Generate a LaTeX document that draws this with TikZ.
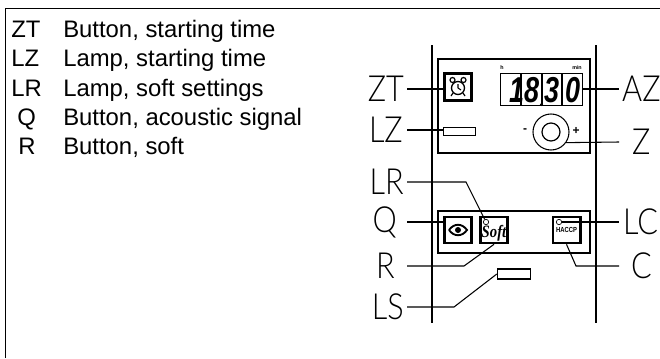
\documentclass[tikz,border=0pt]{standalone}
\usepackage{fontspec}
\setmainfont{Liberation Sans}
\newfontfamily\partfont{Lato Light}
\newfontfamily\softfont{Liberation Serif}
\usetikzlibrary{calc}
\tikzset{
	partlabel/.style={inner sep=0pt, font=\partfont\fontsize{27}{27}\selectfont, xscale=0.85, transform shape},
	keytext/.style={anchor=base west, inner sep=0pt, font=\fontsize{17.9}{20}\selectfont},
	panel/.style={line width=0.8pt},
	keybtn/.style={draw, line width=2pt, minimum width=20.5pt, minimum height=19.5pt, inner sep=0pt},
	lampbox/.style={draw, line width=0.8pt, inner sep=0pt},
	lead/.style={line width=0.8pt},
}
\begin{document}
\begin{tikzpicture}[x=0.75pt, y=-0.75pt]
	%%%%% START %%%%%
	\useasboundingbox (0, 0) rectangle (660, 358);
	\draw[line width=0.9pt] (5.5, 358) -- (5.5, 8.5) -- (660, 8.5);

	\node[keytext] (codezt) at (11, 37) {ZT};
	\node[keytext] (namezt) at (63, 37) {Button, starting time};
	\node[keytext] (codelz) at (11, 66.5) {LZ};
	\node[keytext] (namelz) at (63, 66.5) {Lamp, starting time};
	\node[keytext] (codelr) at (11, 96.5) {LR};
	\node[keytext] (namelr) at (63, 96.5) {Lamp, soft settings};
	\node[keytext] (codeq) at (17, 125.5) {Q};
	\node[keytext] (nameq) at (63, 125.5) {Button, acoustic signal};
	\node[keytext] (coder) at (18, 154.5) {R};
	\node[keytext] (namer) at (63, 154.5) {Button, soft};

	% rails and panels
	\draw[line width=0.9pt] (432, 45) -- (432, 323);
	\draw[line width=0.9pt] (596, 45) -- (596, 323);
	\draw[panel] (438, 59) rectangle (590, 153);
	\draw[panel] (438, 211) rectangle (590, 253);

	% upper panel
	\node[keybtn, minimum height=20.5pt] (btnclock) at (458, 87) {};
	\draw[line width=1pt] (458, 88) circle (6.5);
	\draw[line width=0.8pt] (458, 88) -- (458, 84) (458, 88) -- (461, 90);
	\draw[line width=0.9pt] (452.5, 80) circle (2.5) (463.5, 80) circle (2.5);
	\draw[line width=0.9pt] (453, 93) -- (451, 96) (463, 93) -- (465, 96);
	\node[lampbox, minimum width=24.5pt, minimum height=6.5pt] (lampzt) at (459.5, 131.5) {};
	\node[draw, line width=0.9pt, minimum width=62pt, minimum height=24.5pt, inner sep=0pt] (clockface) at (541.5, 89.5) {};
	\draw[line width=0.8pt] (521, 73) -- (521, 106) (542, 73) -- (542, 106) (562, 73) -- (562, 106);
	\node[inner sep=0pt, font=\fontsize{4}{4}\selectfont\bfseries] (hourmark) at (502, 68) {h};
	\node[inner sep=0pt, font=\fontsize{4}{4}\selectfont\bfseries] (minmark) at (577, 68) {min};
	\node[anchor=west, inner sep=0pt, font=\fontsize{27}{27}\selectfont\bfseries\itshape, xscale=0.75, transform shape] (clockdigits) at (509, 90) {18\hspace{5.5pt}3\hspace{5.5pt}0};
	\fill (541.5, 104.5) circle (1.6);
	\node[circle, draw, line width=0.8pt, minimum size=27pt, inner sep=0pt] (knob) at (551, 132) {};
	\node[circle, draw, line width=0.9pt, minimum size=13.5pt, inner sep=0pt] (knobcap) at (551, 132) {};
	\node[inner sep=0pt, font=\fontsize{9}{9}\selectfont\bfseries] (knobminus) at (525, 131) {-};
	\node[inner sep=0pt, font=\fontsize{9}{9}\selectfont\bfseries] (knobplus) at (576, 131) {+};

	% lower panel
	\node[keybtn] (btnsignal) at (458, 230) {};
	\draw[line width=1.4pt] (449, 230) .. controls (454, 223) and (462, 223) .. (467, 230) .. controls (462, 237) and (454, 237) .. (449, 230);
	\fill (458, 230) circle (3);
	\node[keybtn] (btnsoft) at (494, 230) {};
	\node[inner sep=0pt, font=\softfont\fontsize{13}{13}\selectfont\itshape\bfseries, xscale=0.85, transform shape] (softtext) at (494, 233) {Soft};
	\node[circle, draw, line width=0.5pt, minimum size=4pt, inner sep=0pt] (lampsoft) at (486, 222) {};
	\node[keybtn] (btnhaccp) at (566.5, 230) {};
	\node[inner sep=0pt, font=\fontsize{5.5}{5.5}\selectfont\bfseries, xscale=0.8, transform shape] (haccptext) at (566.5, 230) {HACCP};
	\node[circle, draw, line width=0.5pt, minimum size=4pt, inner sep=0pt] (lamphaccp) at (559, 222) {};
	\node[lampbox, minimum width=25pt, minimum height=7.5pt] (lampsettings) at (514, 274) {};

	% outside labels
	\node[partlabel, anchor=east] (lblzt) at (404, 89) {ZT};
	\node[partlabel, anchor=east] (lblz) at (403, 130) {LZ};
	\node[partlabel, anchor=east] (lbllr) at (404, 182) {LR};
	\node[partlabel, anchor=east] (lblq) at (397, 222) {Q};
	\node[partlabel, anchor=east] (lblr) at (395, 266) {R};
	\node[partlabel, anchor=east] (lblls) at (404, 307) {LS};
	\node[partlabel, anchor=west] (lblaz) at (622, 89) {AZ};
	\node[partlabel, anchor=west] (lbld) at (632, 142) {Z};
	\node[partlabel, anchor=west] (lblc) at (623, 222) {LC};
	\node[partlabel, anchor=west] (lblcc) at (631, 266) {C};

	% leaders
	\coordinate (leadl) at (407, 0);
	\coordinate (leadr) at (619, 0);
	\coordinate (bendlr) at (466, 182);
	\coordinate (bendr) at (464, 266);
	\coordinate (bendc) at (576, 266);
	\coordinate (bendls) at (454, 307);
	\draw[lead] (leadl |- lblzt.east) -- (btnclock.west |- lblzt.east);
	\draw[lead] (leadl |- lblz.east) -- (lampzt.west |- lblz.east);
	\draw[lead] (leadl |- lbllr.east) -- (bendlr) -- (lampsoft);
	\draw[lead] (leadl |- lblq.east) -- (btnsignal.west |- lblq.east);
	\draw[lead] (leadl |- lblr.east) -- (bendr) -- (btnsoft.south);
	\draw[lead] (leadl |- lblls.east) -- (bendls) -- (lampsettings.west);
	\draw[lead] (clockface.east |- lblaz.west) -- (leadr |- lblaz.west);
	\draw[lead] (knob.-35) -- (leadr |- lbld.west);
	\draw[lead] (lamphaccp) -- (leadr |- lblc.west);
	\draw[lead] (btnhaccp.south) -- (bendc) -- (leadr |- lblcc.west);
	%%%%% END %%%%%
\end{tikzpicture}
\end{document}
